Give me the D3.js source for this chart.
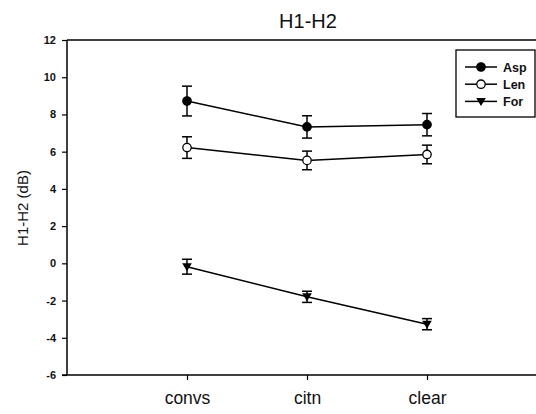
<!DOCTYPE html>
<html><head><meta charset="utf-8">
<script src="https://cdn.jsdelivr.net/npm/d3@7"></script>
<style>body{margin:0;background:#fff}svg{display:block;font-family:Arial,"Liberation Sans",sans-serif}</style>
</head><body><svg id="c" width="536" height="414"></svg>
<script>
const categories = ["convs", "citn", "clear"];
const seriesNames = ["Asp", "Len", "For"];
const aspMean = [8.72, 7.33, 7.45];
const aspErr  = [0.8, 0.6, 0.6];
const lenMean = [6.22, 5.53, 5.85];
const lenErr  = [0.58, 0.5, 0.5];
const forMean = [-0.18, -1.8, -3.27];
const forErr  = [0.4, 0.3, 0.3];
const yTicks = [-6, -4, -2, 0, 2, 4, 6, 8, 10, 12];

const svg = d3.select("#c");
const x = d3.scaleLinear().domain([0, 4]).range([67, 547]);
const y = d3.scaleLinear().domain([-6, 12]).range([375, 40]);

// title
svg.append("text").attr("x", 308).attr("y", 28).attr("text-anchor", "middle")
  .attr("font-size", 20).attr("fill", "#111").text("H1-H2");
// y label
svg.append("text").attr("transform", "translate(28,208) rotate(-90)")
  .attr("text-anchor", "middle").attr("font-size", 15).attr("fill", "#111").text("H1-H2 (dB)");

// frame: top line
svg.append("line").attr("x1", 67).attr("x2", 536).attr("y1", y(12)).attr("y2", y(12))
  .attr("stroke", "#000").attr("stroke-width", 1.5);

// y axis
const yAxis = svg.append("g").attr("transform", "translate(67,0)")
  .call(d3.axisLeft(y).tickValues(yTicks).tickSize(5).tickPadding(6).tickFormat(d => String(d)));
yAxis.select(".domain").attr("stroke-width", 1.5).attr("d", `M0,${y(-6)}V${y(12)}`);
yAxis.selectAll(".tick line").attr("stroke-width", 1.2);
yAxis.selectAll(".tick text").attr("font-size", 11).attr("font-weight", "bold")
  .attr("font-family", "Arial, 'Liberation Sans', sans-serif").attr("fill", "#111");

// x axis
const xAxis = svg.append("g").attr("transform", `translate(0,${y(-6)})`)
  .call(d3.axisBottom(x).tickValues([1, 2, 3]).tickSize(5).tickPadding(12)
    .tickFormat(d => categories[d - 1]));
xAxis.select(".domain").attr("stroke-width", 1.5).attr("d", `M62,0H536`);
xAxis.selectAll(".tick line").attr("stroke-width", 1.2);
xAxis.selectAll(".tick text").attr("font-size", 17.5)
  .attr("font-family", "Arial, 'Liberation Sans', sans-serif").attr("fill", "#111");

const series = [
  {name: "Asp", mean: aspMean, err: aspErr, marker: "fill"},
  {name: "Len", mean: lenMean, err: lenErr, marker: "open"},
  {name: "For", mean: forMean, err: forErr, marker: "tri"}
];

function drawMarker(g, type, cx, cy) {
  if (type === "tri") {
    g.append("path").attr("d", `M${cx-4.8},${cy-3.5}L${cx+4.8},${cy-3.5}L${cx},${cy+4.5}Z`).attr("fill", "#000");
  } else {
    g.append("circle").attr("cx", cx).attr("cy", cy).attr("r", 4.2)
      .attr("fill", type === "fill" ? "#000" : "#fff").attr("stroke", "#000").attr("stroke-width", 1.3);
  }
}

const line = d3.line().x((d, i) => x(i + 1)).y(d => y(d));
series.forEach(s => {
  const g = svg.append("g");
  g.append("path").datum(s.mean).attr("d", line).attr("fill", "none")
    .attr("stroke", "#000").attr("stroke-width", 1.5);
  s.mean.forEach((m, i) => {
    const cx = x(i + 1), t = y(m + s.err[i]), b = y(m - s.err[i]);
    g.append("line").attr("x1", cx).attr("x2", cx).attr("y1", t).attr("y2", b).attr("stroke", "#000").attr("stroke-width", 1.5);
    [t, b].forEach(v => g.append("line").attr("x1", cx - 5).attr("x2", cx + 5).attr("y1", v).attr("y2", v)
      .attr("stroke", "#000").attr("stroke-width", 1.5));
  });
  s.mean.forEach((m, i) => drawMarker(g, s.marker, x(i + 1), y(m)));
});

// legend
const lg = svg.append("g");
lg.append("rect").attr("x", 456).attr("y", 50).attr("width", 79).attr("height", 67)
  .attr("fill", "#fff").attr("stroke", "#000").attr("stroke-width", 1.3);
series.forEach((s, i) => {
  const yy = 67 + i * 17.2;
  lg.append("line").attr("x1", 465).attr("x2", 497).attr("y1", yy).attr("y2", yy).attr("stroke", "#000").attr("stroke-width", 1.5);
  drawMarker(lg, s.marker, 481, yy);
  lg.append("text").attr("x", 503).attr("y", yy + 4.5).attr("font-size", 12.5).attr("font-weight", "bold").attr("fill", "#111").text(s.name);
});
</script></body></html>
